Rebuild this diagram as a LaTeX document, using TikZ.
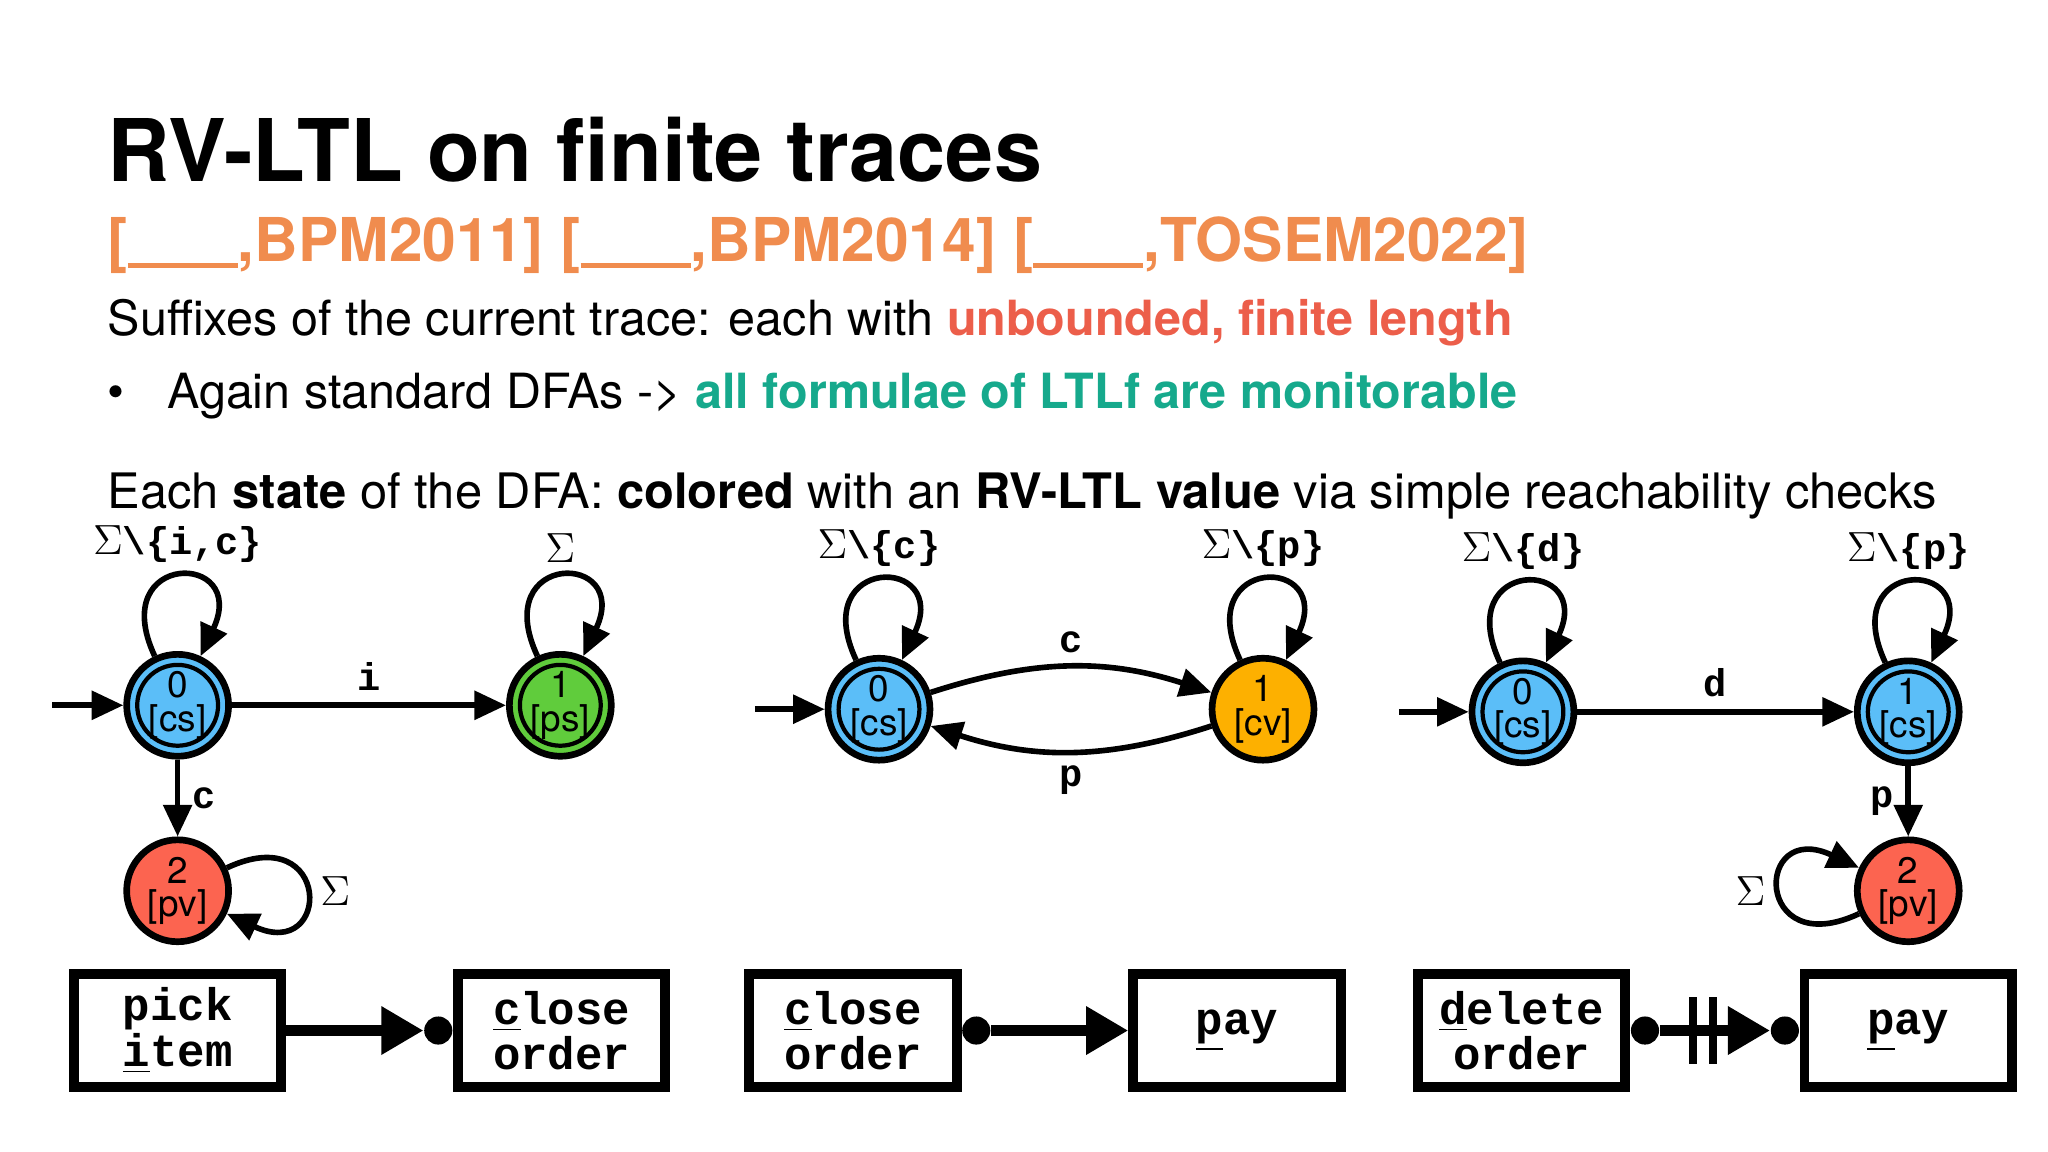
\documentclass[tikz,border=0pt]{standalone}
\usepackage{fontspec}
\setmainfont{TeX Gyre Heros}
\setmonofont{Liberation Mono}
\usetikzlibrary{arrows.meta,positioning}
\definecolor{csblue}{RGB}{91,190,248}
\definecolor{psgreen}{RGB}{96,204,60}
\definecolor{cvorange}{RGB}{253,176,0}
\definecolor{pvred}{RGB}{252,100,80}
\definecolor{refor}{RGB}{240,140,78}
\definecolor{redtxt}{RGB}{236,94,74}
\definecolor{tealtxt}{RGB}{22,169,140}
\tikzset{
  st/.style={circle,draw=black,line width=1.9pt,minimum size=29pt,inner sep=0pt,align=center,font=\fontsize{10.5}{10.5}\selectfont},
  acc/.style={st,fill=csblue,path picture={\draw[line width=1.2pt] (path picture bounding box.center) circle (11.5pt);}},
  ed/.style={line width=1.6pt,-{Triangle[length=9pt,width=8pt]}},
  lab/.style={font=\ttfamily\bfseries\fontsize{11}{11}\selectfont},
  act/.style={draw,line width=2.8pt,minimum width=59pt,minimum height=32pt,inner sep=0pt,align=center,font=\ttfamily\bfseries\fontsize{13}{13}\selectfont},
  dot/.style={circle,fill,inner sep=0pt,minimum size=8pt},
  con/.style={line width=3pt,-{Triangle[length=12pt,width=13pt]}},
  bar/.style={fill,inner sep=0pt,minimum width=2.2pt,minimum height=19pt},
  txt/.style={anchor=base west,inner sep=0pt},
  lp/.style={looseness=6.5},
}
\newcommand{\blank}{\rule[-2pt]{1.1cm}{1.4pt}}
\newcommand{\sig}{{\fontsize{13}{13}\selectfont$\Sigma$}}
\begin{document}
\begin{tikzpicture}[x=0.01306cm,y=-0.01306cm]
\useasboundingbox (0,0) rectangle (1568,882);
% header text
\node[txt,font=\bfseries\fontsize{24.6}{30}\selectfont] (title) at (82,139) {RV-LTL on finite traces};
\node[txt,font=\bfseries\fontsize{17.2}{20}\selectfont,text=refor] (refs) at (82,200) {[\blank,BPM2011] [\blank,BPM2014] [\blank,TOSEM2022]};
\node[txt,font=\fontsize{13.8}{16}\selectfont] (l1) at (82,257) {Suffixes of the current trace: each with \textcolor{redtxt}{\bfseries unbounded, finite length}};
\node[txt,font=\fontsize{13.8}{16}\selectfont] (l2) at (82,313) {\textbullet\hspace{0.6em} Again standard DFAs -> \textcolor{tealtxt}{\bfseries all formulae of LTLf are monitorable}};
\node[txt,font=\fontsize{13.9}{16}\selectfont] (l3) at (82,389) {Each \textbf{state} of the DFA: \textbf{colored} with an \textbf{RV-LTL value} via simple reachability checks};
% first automaton
\node[acc] (a0) at (136,540) {0\\[-1pt][cs]};
\node[st,fill=psgreen,path picture={\draw[line width=1.2pt] (path picture bounding box.center) circle (11.5pt);}] (a1) at (429,540) {1\\[-1pt][ps]};
\node[st,fill=pvred] (a2) at (136,682) {2\\[-1pt][pv]};
\coordinate (a00) at (40,540);
\draw[ed] (a00) -- (a0);
\draw[ed] (a0) -- node[lab,above]{i} (a1);
\draw[ed] (a0) -- node[lab,right]{c} (a2);
\draw[ed] (a0) to[out=115,in=65,lp] node[lab,above]{\sig\textbackslash\{i,c\}} (a0);
\draw[ed] (a1) to[out=115,in=65,lp] node[lab,above]{\sig} (a1);
\draw[ed] (a2) to[out=25,in=-25,lp] node[lab,right]{\sig} (a2);
% second automaton
\node[acc] (b0) at (673,543) {0\\[-1pt][cs]};
\node[st,fill=cvorange] (b1) at (967,543) {1\\[-1pt][cv]};
\coordinate (b00) at (578,543);
\draw[ed] (b00) -- (b0);
\draw[ed] (b0) to[bend left=18] node[lab,above]{c} (b1);
\draw[ed] (b1) to[bend left=18] node[lab,below]{p} (b0);
\draw[ed] (b0) to[out=115,in=65,lp] node[lab,above]{\sig\textbackslash\{c\}} (b0);
\draw[ed] (b1) to[out=115,in=65,lp] node[lab,above]{\sig\textbackslash\{p\}} (b1);
% third automaton
\node[acc] (c0) at (1166,545) {0\\[-1pt][cs]};
\node[acc] (c1) at (1461,545) {1\\[-1pt][cs]};
\node[st,fill=pvred] (c2) at (1461,682) {2\\[-1pt][pv]};
\coordinate (c00) at (1071,545);
\draw[ed] (c00) -- (c0);
\draw[ed] (c0) -- node[lab,above]{d} (c1);
\draw[ed] (c1) -- node[lab,left]{p} (c2);
\draw[ed] (c0) to[out=115,in=65,lp] node[lab,above]{\sig\textbackslash\{d\}} (c0);
\draw[ed] (c1) to[out=115,in=65,lp] node[lab,above]{\sig\textbackslash\{p\}} (c1);
\draw[ed] (c2) to[out=-155,in=155,lp] node[lab,left]{\sig} (c2);
% declare constraints
\node[act] (pick) at (136,789) {pick\\\underline{i}tem};
\node[act] (clo1) at (430,789) {\underline{c}lose\\order};
\node[act] (clo2) at (653,789) {\underline{c}lose\\order};
\node[act] (pay1) at (947,789) {\underline{p}ay};
\node[act] (del) at (1165,789) {\underline{d}elete\\order};
\node[act] (pay2) at (1461,789) {\underline{p}ay};
\node[dot,left=0pt of clo1] (d1) {};
\node[dot,right=0pt of clo2] (d2) {};
\node[dot,right=0pt of del] (d3) {};
\node[dot,left=0pt of pay2] (d4) {};
\draw[con] (pick) -- (d1);
\draw[con] (d2) -- (pay1);
\draw[con] (d3) -- node[bar,pos=0.3]{} node[bar,pos=0.48]{} (d4);
\end{tikzpicture}
\end{document}
